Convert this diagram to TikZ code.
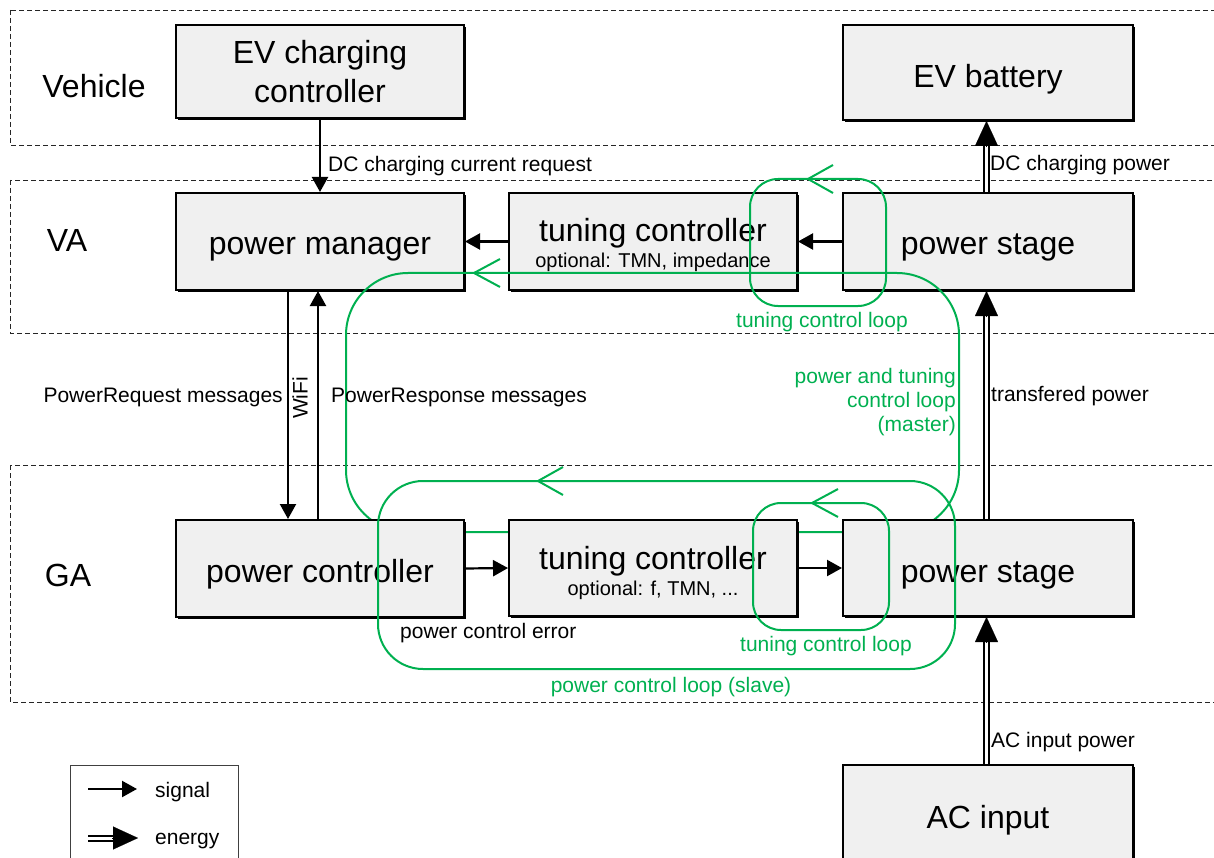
\documentclass[tikz,border=0pt]{standalone}
\usepackage{fontspec}
\setmainfont{Liberation Sans}
\usetikzlibrary{arrows.meta,calc,shadows}
\definecolor{loopgreen}{HTML}{00B050}
\definecolor{boxfill}{HTML}{F0F0F0}
\newcommand\fbig{\fontsize{32}{40}\selectfont}
\newcommand\fmid{\fontsize{21}{24}\selectfont}
\newcommand\fsub{\fontsize{20}{22}\selectfont}
\begin{document}
\begin{tikzpicture}[x=1pt,y=-1pt,
  box/.style={draw, line width=2pt, fill=boxfill, inner sep=0pt,
    drop shadow={shadow xshift=2pt,shadow yshift=-2pt,opacity=1,fill=black}},
  ttl/.style={font=\fbig, inner sep=0pt, anchor=base},
  sttl/.style={font=\fsub, inner sep=0pt, anchor=base},
  region/.style={draw=black!85, line width=0.9pt, dash pattern=on 5pt off 3pt},
  sig/.style={line width=2.2pt, -{Triangle[length=15pt,width=16pt]}},
  energy/.style={line width=2pt, double distance=3pt, shorten >=23pt},
  etip/.style={-{Triangle[length=25pt,width=23pt]}, line width=0.1pt},
  loop/.style={draw=loopgreen, line width=2pt},
  lbl/.style={font=\fmid, inner sep=0pt},
  glbl/.style={font=\fmid, inner sep=0pt, text=loopgreen},
  reg/.style={font=\fbig, inner sep=0pt}
]
\useasboundingbox (0,0) rectangle (1214,858);
\clip (0,0) rectangle (1214,858);

% regions
\draw[region] (10,10) rectangle (1230,145);
\draw[region] (10,180) rectangle (1230,333);
\draw[region] (10,465) rectangle (1230,702);
\node[reg] (lveh) at (94,86) {Vehicle};
\node[reg] (lva) at (67,240) {VA};
\node[reg] (lga) at (68,575) {GA};

% vehicle + VA boxes
\node[box, minimum width=288pt, minimum height=93pt] (evc) at (320,71.5) {};
\node[ttl] (evct1) at (320,64) {EV charging};
\node[ttl] (evct2) at (320,103) {controller};
\node[box, minimum width=290pt, minimum height=95pt] (evb) at (988,72.5) {};
\node[ttl] (evbt) at (988,88) {EV battery};
\node[box, minimum width=288pt, minimum height=97pt] (pm) at (320,241.5) {};
\node[ttl] (pmt) at (320,255) {power manager};
\node[box, minimum width=288pt, minimum height=97pt] (tcva) at (653,241.5) {};
\node[ttl] (tcvat) at (653,242) {tuning controller};
\node[sttl] (tcvas) at (653,268) {optional: TMN, impedance};
\node[box, minimum width=290pt, minimum height=97pt] (psva) at (988,241.5) {};
\node[ttl] (psvat) at (988,255) {power stage};

% master loop (over VA boxes, under GA boxes)
\draw[loop, rounded corners=62pt] (346,273) rectangle (959,532);
\coordinate (mtip) at (474,273);
\draw[loop] ($(mtip)+(26,-14)$) -- (mtip) -- ($(mtip)+(26,14)$);

% GA boxes
\node[box, minimum width=288pt, minimum height=97pt] (pc) at (320,568.5) {};
\node[ttl] (pct) at (320,582) {power controller};
\node[box, minimum width=288pt, minimum height=96pt] (tcga) at (653,568) {};
\node[ttl] (tcgat) at (653,569) {tuning controller};
\node[sttl] (tcgas) at (653,595) {optional: f, TMN, ...};
\node[box, minimum width=290pt, minimum height=96pt] (psga) at (988,568) {};
\node[ttl] (psgat) at (988,582) {power stage};
\node[box, minimum width=290pt, minimum height=100pt] (aci) at (988,815) {};
\node[ttl] (acit) at (988,828) {AC input};

% signal arrows
\draw[sig] (evc.south) -- (pm.north);
\draw[sig] (tcva.west) -- (pm.east);
\draw[sig] (psva.west) -- (tcva.east);
\draw[sig] ([xshift=-32pt]pm.south) -- ([xshift=-32pt]pc.north);
\draw[sig] ([xshift=-2pt]pc.north) -- ([xshift=-2pt]pm.south);
\draw[sig] (pc.east) -- (tcga.west);
\draw[sig] (tcga.east) -- (psga.west);

% energy arrows
\draw[energy] ([xshift=-1.5pt]psva.north) -- ([xshift=-1.5pt]evb.south);
\draw[etip] ([xshift=-1.5pt,yshift=-26pt]evb.south) -- ([xshift=-1.5pt]evb.south);
\draw[energy] ([xshift=-1.5pt]psga.north) -- ([xshift=-1.5pt]psva.south);
\draw[etip] ([xshift=-1.5pt,yshift=-26pt]psva.south) -- ([xshift=-1.5pt]psva.south);
\draw[energy] ([xshift=-1.5pt]aci.north) -- ([xshift=-1.5pt]psga.south);
\draw[etip] ([xshift=-1.5pt,yshift=-26pt]psga.south) -- ([xshift=-1.5pt]psga.south);

% other loops
\draw[loop, rounded corners=28pt] (750,179) rectangle (886,306);
\coordinate (vtip) at (808,179);
\draw[loop] ($(vtip)+(25,-14)$) -- (vtip) -- ($(vtip)+(25,14)$);
\draw[loop, rounded corners=28pt] (753,503) rectangle (889,630);
\coordinate (gtip) at (812,503);
\draw[loop] ($(gtip)+(26,-14)$) -- (gtip) -- ($(gtip)+(26,14)$);
\draw[loop, rounded corners=45pt] (378,481) rectangle (955,669);
\coordinate (stip) at (538,481);
\draw[loop] ($(stip)+(25,-14)$) -- (stip) -- ($(stip)+(25,14)$);

% labels
\node[lbl, anchor=west] (l1) at (328,166) {DC charging current request};
\node[lbl, anchor=west] (l2) at (990,165) {DC charging power};
\node[lbl, anchor=west] (l3) at (991,396) {transfered power};
\node[lbl, anchor=west] (l4) at (991,742) {AC input power};
\node[lbl, anchor=east] (l5) at (283,397) {PowerRequest messages};
\node[lbl, anchor=west] (l6) at (331,397) {PowerResponse messages};
\node[lbl, rotate=90] (l7) at (300,398) {WiFi};
\node[lbl, anchor=west] (l8) at (400,633) {power control error};

\node[glbl] (g1) at (822,322) {tuning control loop};
\node[glbl, anchor=east, align=right] (g2) at (956,402) {power and tuning\\control loop\\(master)};
\node[glbl] (g3) at (826,646) {tuning control loop};
\node[glbl] (g4) at (671,687) {power control loop (slave)};

% legend
\draw[draw=black!75, line width=1pt] (70,870) |- (238,765) -- (238,870);
\coordinate (ls1) at (88,789);
\coordinate (ls2) at (137,789);
\draw[sig] (ls1) -- (ls2);
\coordinate (le1) at (88,838);
\coordinate (le2) at (138,838);
\draw[energy] (le1) -- (le2);
\draw[etip] ([xshift=-26pt]le2) -- (le2);
\node[lbl, anchor=west] (lsig) at (155,792) {signal};
\node[lbl, anchor=west] (lene) at (155,841) {energy};
\end{tikzpicture}
\end{document}
